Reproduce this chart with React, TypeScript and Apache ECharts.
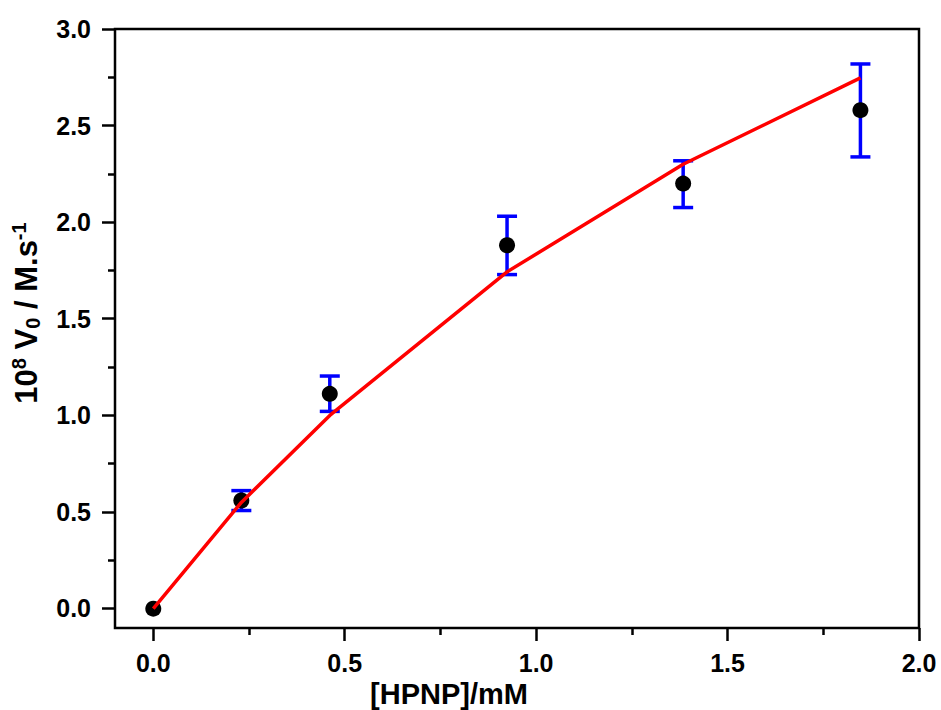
import React, { useEffect, useRef } from 'react';
import * as echarts from 'echarts';

const concentration = [0, 0.23, 0.461, 0.924, 1.384, 1.847];
const rate = [0, 0.56, 1.112, 1.881, 2.2, 2.58];
const errLow = [0, 0.508, 1.021, 1.729, 2.076, 2.338];
const errHigh = [0, 0.611, 1.204, 2.031, 2.318, 2.819];
const fitRate = [0, 0.55, 1.0, 1.743, 2.3, 2.747];
const xTickLabels = ['0.0', '0.5', '1.0', '1.5', '2.0'];
const yTickLabels = ['0.0', '0.5', '1.0', '1.5', '2.0', '2.5', '3.0'];

const FONT = '"Liberation Sans", Arial, sans-serif';

export default function App() {
  const ref = useRef<HTMLDivElement>(null);
  useEffect(() => {
    if (!ref.current) return;
    const chart = echarts.init(ref.current, undefined, { renderer: 'svg' });
    const tickStyle = { color: '#000', width: 2.5 };
    const labelStyle = { fontSize: 25, fontWeight: 'bold', fontFamily: FONT, color: '#000' };
    const hidden = { axisLine: { show: false }, axisTick: { show: false }, axisLabel: { show: false }, splitLine: { show: false } };
    const option: any = {
      animation: false,
      backgroundColor: '#fff',
      grid: [
        { left: 115, top: 29, width: 804, height: 599, show: true, borderColor: '#000', borderWidth: 2.5, backgroundColor: 'transparent' },
        { left: 153.3, top: 29, width: 765.7, height: 599, show: false },
        { left: 115, top: 29, width: 804, height: 579.3, show: false },
      ],
      xAxis: [
        { gridIndex: 0, type: 'value', min: -0.1, max: 2.0, ...hidden },
        {
          gridIndex: 1, type: 'value', min: 0, max: 2, interval: 0.5, position: 'bottom',
          axisLine: { show: false },
          axisTick: { show: true, length: 13, lineStyle: tickStyle },
          minorTick: { show: true, splitNumber: 2, length: 7, lineStyle: tickStyle },
          axisLabel: { ...labelStyle, margin: 22, formatter: (v: number) => xTickLabels[Math.round(v / 0.5)] ?? '' },
          splitLine: { show: false },
        },
        { gridIndex: 2, type: 'value', min: 0, max: 1, ...hidden },
      ],
      yAxis: [
        { gridIndex: 0, type: 'value', min: -0.1, max: 3.0, ...hidden },
        { gridIndex: 1, type: 'value', min: 0, max: 1, ...hidden },
        {
          gridIndex: 2, type: 'value', min: 0, max: 3, interval: 0.5, position: 'left',
          axisLine: { show: false },
          axisTick: { show: true, length: 13, lineStyle: tickStyle },
          minorTick: { show: true, splitNumber: 2, length: 7, lineStyle: tickStyle },
          axisLabel: { ...labelStyle, margin: 24, formatter: (v: number) => yTickLabels[Math.round(v / 0.5)] ?? '' },
          splitLine: { show: false },
        },
      ],
      graphic: [
        {
          type: 'text', x: 449, y: 694,
          style: { text: '[HPNP]/mM', fontSize: 29, fontWeight: 'bold', fontFamily: FONT, fill: '#000', align: 'center', verticalAlign: 'middle' },
        },
        {
          type: 'text', x: 26, y: 313, rotation: Math.PI / 2,
          style: {
            text: '{m|10}{sup|8}{m| V}{sub|0}{m| / M.s}{sup|-1}',
            align: 'center', verticalAlign: 'middle',
            rich: {
              m: { fontSize: 31, fontWeight: 'bold', fontFamily: FONT, fill: '#000', lineHeight: 34, verticalAlign: 'middle' },
              sup: { fontSize: 20, fontWeight: 'bold', fontFamily: FONT, fill: '#000', lineHeight: 20, verticalAlign: 'top' },
              sub: { fontSize: 20, fontWeight: 'bold', fontFamily: FONT, fill: '#000', lineHeight: 20, verticalAlign: 'bottom' },
            },
          },
        },
      ],
      series: [
        {
          type: 'custom', xAxisIndex: 0, yAxisIndex: 0, z: 1,
          data: concentration.map((x, i) => [x, errLow[i], errHigh[i]]),
          encode: { x: 0, y: [1, 2] },
          renderItem: (params: any, api: any) => {
            const x = api.value(0), lo = api.value(1), hi = api.value(2);
            if (hi === lo) return null;
            const pLo = api.coord([x, lo]);
            const pHi = api.coord([x, hi]);
            const hw = 10;
            const style = { stroke: '#0000ff', lineWidth: 3.5 };
            return {
              type: 'group',
              children: [
                { type: 'line', shape: { x1: pLo[0], y1: pLo[1], x2: pHi[0], y2: pHi[1] }, style },
                { type: 'line', shape: { x1: pLo[0] - hw, y1: pLo[1], x2: pLo[0] + hw, y2: pLo[1] }, style },
                { type: 'line', shape: { x1: pHi[0] - hw, y1: pHi[1], x2: pHi[0] + hw, y2: pHi[1] }, style },
              ],
            };
          },
        },
        {
          type: 'scatter', xAxisIndex: 0, yAxisIndex: 0, z: 2,
          symbol: 'circle', symbolSize: 16,
          itemStyle: { color: '#000', opacity: 1 },
          data: concentration.map((x, i) => [x, rate[i]]),
        },
        {
          type: 'line', xAxisIndex: 0, yAxisIndex: 0, z: 3,
          symbol: 'none',
          lineStyle: { color: '#ff0000', width: 3.5 },
          data: concentration.map((x, i) => [x, fitRate[i]]),
        },
      ],
    };
    chart.setOption(option);
    return () => chart.dispose();
  }, []);
  return <div ref={ref} style={{ position: 'fixed', left: 0, top: 0, width: 941, height: 710 }} />;
}
